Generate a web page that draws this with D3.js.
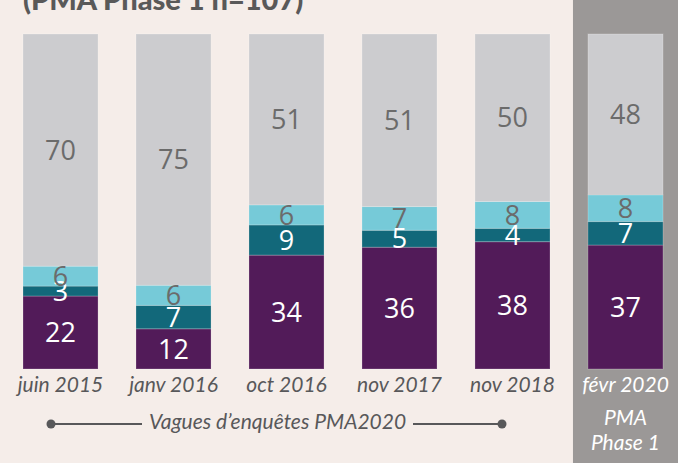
<!DOCTYPE html>
<html>
<head>
<meta charset="utf-8">
<script src="https://cdn.jsdelivr.net/npm/d3@7"></script>
<style>
  html, body { margin: 0; padding: 0; background: #f5ede9; }
  svg { display: block; }
</style>
</head>
<body>
<svg id="chart" width="678" height="463"></svg>
<script>
// Survey waves (the last one is PMA Phase 1)
const waves = ["juin 2015", "janv 2016", "oct 2016", "nov 2017", "nov 2018", "févr 2020"];

// Stacked shares per wave, bottom to top
const seriesA = [22, 12, 34, 36, 38, 37];   // purple
const seriesB = [3, 7, 9, 5, 4, 7];         // dark teal
const seriesC = [6, 6, 6, 7, 8, 8];         // light cyan
const seriesD = [70, 75, 51, 51, 50, 48];   // grey

const keys = ["a", "b", "c", "d"];
const colors = { a: "#521b59", b: "#12687a", c: "#76cad8", d: "#cccccf" };
const labelColors = { a: "#ffffff", b: "#ffffff", c: "#6b6b6b", d: "#6b6b6b" };

const rows = waves.map((w, i) => ({
  wave: w, a: seriesA[i], b: seriesB[i], c: seriesC[i], d: seriesD[i]
}));

const svg = d3.select("#chart");
const W = 678, H = 463;

const x = d3.scaleBand().domain(waves).range([23, 663]).paddingInner(0.336).paddingOuter(0);
const y = d3.scaleLinear().domain([0, 1]).range([369, 34]);

// Grey panel behind the Phase 1 bar
const lastX = x(waves[waves.length - 1]);
svg.append("rect")
  .attr("x", lastX - 15).attr("y", 0)
  .attr("width", W - (lastX - 15)).attr("height", H)
  .attr("fill", "#9b9897");

// Title (top, partly out of frame)
svg.append("text")
  .attr("x", 23).attr("y", 10)
  .attr("font-family", "Lato, sans-serif")
  .attr("font-weight", 900)
  .attr("font-size", 29)
  .attr("fill", "#595959")
  .text("(PMA Phase 1 n=107)");

const stack = d3.stack().keys(keys).offset(d3.stackOffsetExpand);
const layers = stack(rows);

const g = svg.append("g");
layers.forEach(layer => {
  const k = layer.key;
  g.selectAll(null).data(layer).join("rect")
    .attr("x", d => x(d.data.wave))
    .attr("y", d => y(d[1]))
    .attr("width", x.bandwidth())
    .attr("height", d => y(d[0]) - y(d[1]))
    .attr("fill", colors[k])
    .attr("stroke", "rgba(255,255,255,0.22)")
    .attr("stroke-width", 1);
});

layers.forEach(layer => {
  const k = layer.key;
  g.selectAll(null).data(layer).join("text")
    .attr("x", d => x(d.data.wave) + x.bandwidth() / 2)
    .attr("y", d => (y(d[0]) + y(d[1])) / 2)
    .attr("dy", "0.36em")
    .attr("text-anchor", "middle")
    .attr("font-family", "'Open Sans', sans-serif")
    .attr("font-size", 27)
    .attr("fill", labelColors[k])
    .text(d => d.data[k]);
});

// Wave labels
const axis = d3.axisBottom(x).tickSize(0).tickPadding(0);
const ax = svg.append("g").attr("transform", "translate(0,392)").call(axis);
ax.select(".domain").remove();
ax.selectAll("text")
  .attr("dy", 0).attr("y", 0)
  .attr("font-family", "Lato, sans-serif")
  .attr("font-style", "italic")
  .attr("font-size", 21)
  .attr("fill", (d, i) => i === waves.length - 1 ? "#ffffff" : "#58585a");

// Bracket annotation for the PMA2020 waves
const ann = svg.append("g");
const yLine = 424;
ann.append("line").attr("x1", 51).attr("x2", 142).attr("y1", yLine).attr("y2", yLine)
  .attr("stroke", "#58585a").attr("stroke-width", 2);
ann.append("line").attr("x1", 413).attr("x2", 502).attr("y1", yLine).attr("y2", yLine)
  .attr("stroke", "#58585a").attr("stroke-width", 2);
ann.append("circle").attr("cx", 51).attr("cy", yLine).attr("r", 4.5).attr("fill", "#58585a");
ann.append("circle").attr("cx", 502).attr("cy", yLine).attr("r", 4.5).attr("fill", "#58585a");
ann.append("text")
  .attr("x", 277.5).attr("y", 429)
  .attr("text-anchor", "middle")
  .attr("font-family", "Lato, sans-serif")
  .attr("font-style", "italic")
  .attr("font-size", 21)
  .attr("fill", "#58585a")
  .text("Vagues d’enquêtes PMA2020");

// Phase 1 caption
const cx = lastX + x.bandwidth() / 2;
[["PMA", 425], ["Phase 1", 450]].forEach(([t, yy]) => {
  svg.append("text")
    .attr("x", cx).attr("y", yy)
    .attr("text-anchor", "middle")
    .attr("font-family", "Lato, sans-serif")
    .attr("font-style", "italic")
    .attr("font-size", 21)
    .attr("fill", "#ffffff")
    .text(t);
});
</script>
</body>
</html>
